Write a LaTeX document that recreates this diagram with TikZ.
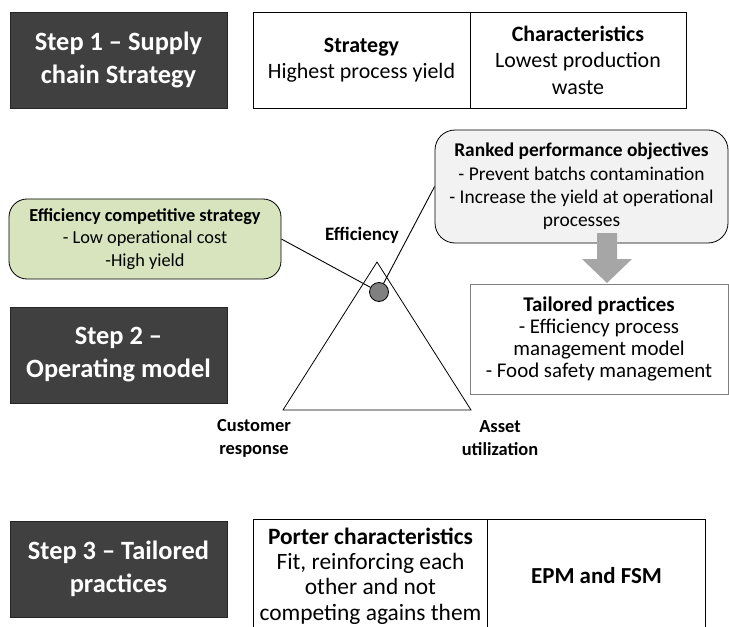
\documentclass[tikz,border=0pt]{standalone}
\usepackage{fontspec}
\setmainfont{Carlito}
\usetikzlibrary{calc}

\definecolor{stepfill}{HTML}{404040}
\definecolor{stepedge}{HTML}{262626}
\definecolor{greenfill}{HTML}{D7E4BD}
\definecolor{rankfill}{HTML}{F2F2F2}
\definecolor{dotfill}{HTML}{808080}
\definecolor{arrowgray}{HTML}{A6A6A6}
\definecolor{tailedge}{HTML}{7F7F7F}

\newcommand\setfs[2]{\fontsize{#1}{#2}\selectfont}

\begin{document}
\begin{tikzpicture}[x=1bp,y=-1bp,line width=0.8bp,
  stepbox/.style={draw=stepedge,fill=stepfill,text=white,align=center,
    inner sep=0pt,minimum width=217bp,minimum height=96bp,
    font=\bfseries\setfs{26.5}{33}},
  cell/.style={draw=black,fill=white,align=center,inner sep=0pt},
  toptext/.style={font=\setfs{22}{26.5}},
  greenbox/.style={draw=black,fill=greenfill,rounded corners=18bp,align=center,
    inner sep=0pt,minimum width=272bp,minimum height=80bp,
    font=\setfs{18.4}{22.5}},
  rankbox/.style={draw=black,fill=rankfill,rounded corners=20bp,align=center,
    inner sep=0pt,minimum width=293bp,minimum height=113bp,
    font=\setfs{19.5}{23.3}},
  tailbox/.style={draw=tailedge,fill=white,align=center,inner sep=0pt,
    minimum width=258bp,minimum height=110bp,font=\setfs{21}{22.3}},
  vertexlabel/.style={align=center,font=\bfseries\setfs{18.5}{23}},
  porterfont/.style={font=\setfs{23.5}{25.5}},
  dotnode/.style={circle,draw=black,fill=dotfill,minimum size=19bp,inner sep=0pt},
  link/.style={draw=black,line width=0.9bp}]

\useasboundingbox (0,0) rectangle (729,627);

% step labels
\node[stepbox] (s1) at (118.5,60) {Step 1 – Supply\\chain Strategy};
\node[stepbox] (s2) at (118.5,355) {Step 2 –\\Operating model};
\node[stepbox] (s3) at (118.5,569) {Step 3 – Tailored\\practices};

% step 1 table
\node[cell,toptext,minimum width=217bp,minimum height=96bp] (strat) at (361.5,60)
  {\textbf{Strategy}\\Highest process yield};
\node[cell,toptext,minimum width=216bp,minimum height=96bp] (charc) at (578,60)
  {\textbf{Characteristics}\\Lowest production\\waste};

% triangle of the operating model
\coordinate (apex) at (377,262);
\coordinate (bl) at (283,410);
\coordinate (br) at (471,410);
\draw[line width=0.8bp] (apex) -- (bl) -- (br) -- cycle;

\node[font=\bfseries\setfs{19}{22}] (eff) at (362,235) {Efficiency};
\node[vertexlabel] (cust) at (254,438) {Customer\\response};
\node[vertexlabel] (asset) at (500,438) {Asset\\utilization};

% strategy and objectives callouts
\node[greenbox] (ecs) at (145,239)
  {\textbf{Efficiency competitive strategy}\\- Low operational cost\\-High yield};
\node[rankbox] (rank) at (581.5,186.5)
  {\textbf{Ranked performance objectives}\\- Prevent batchs contamination\\- Increase the yield at operational\\processes};

\node[dotnode] (dot) at (379,292) {};
\draw[link] (ecs.east) -- (dot);
\draw[link] (dot) -- (rank.west);

% tailored practices
\node[tailbox] (tail) at (599,339)
  {\textbf{Tailored practices}\\- Efficiency process\\management model\\- Food safety management};

% block arrow from objectives to practices
\coordinate (atail) at (607,233);
\coordinate (atip) at (607,283);
\fill[arrowgray] ($(atail)+(-10,0)$) -- ($(atail)+(10,0)$) -- ($(atip)+(10,-24)$)
  -- ($(atip)+(25,-24)$) -- (atip) -- ($(atip)+(-25,-24)$) -- ($(atip)+(-10,-24)$) -- cycle;

% step 3 table
\node[cell,porterfont,minimum width=234bp,minimum height=114bp] (porter) at (370.5,576)
  {\textbf{Porter characteristics}\\Fit, reinforcing each\\other and not\\competing agains them};
\node[cell,minimum width=218bp,minimum height=114bp,font=\bfseries\setfs{23}{26}] (epm) at (596.5,576)
  {EPM and FSM};

\end{tikzpicture}
\end{document}
